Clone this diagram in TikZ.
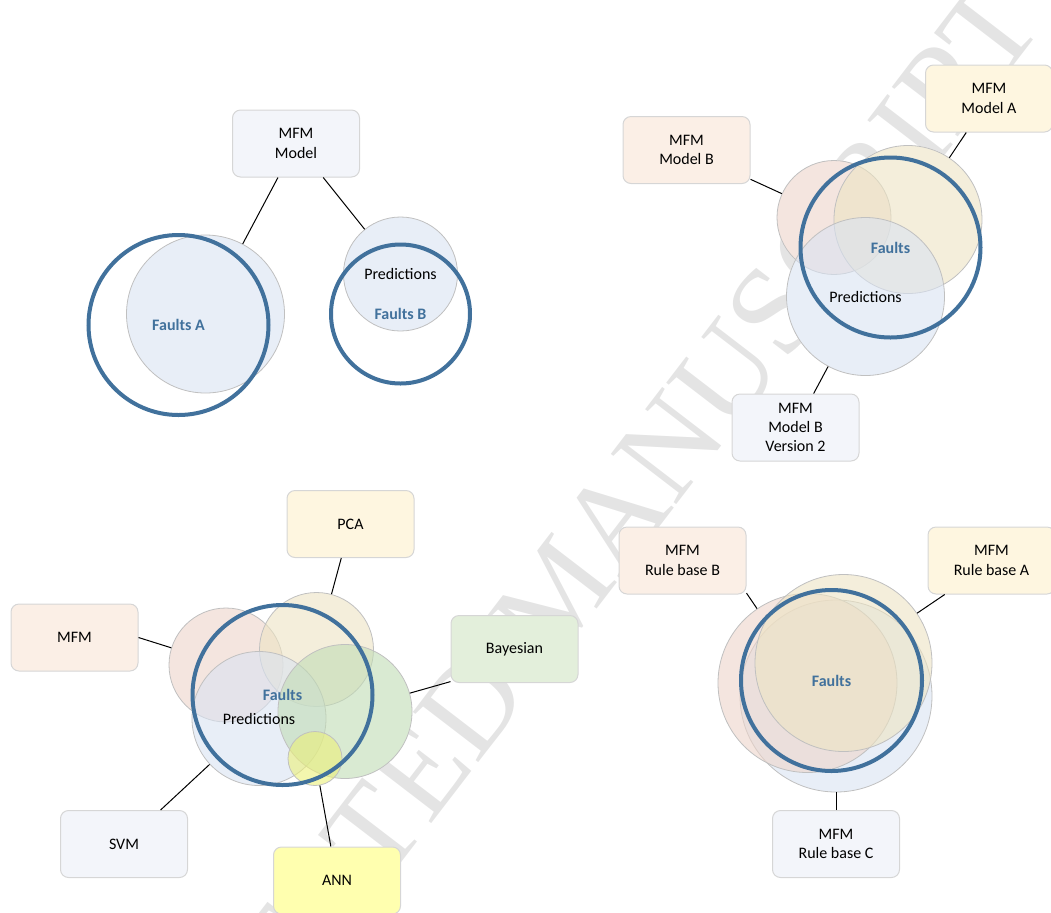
\documentclass[tikz,border=0pt]{standalone}
\usepackage{fontspec}
\usetikzlibrary{calc}
\setmainfont{Carlito}
\newfontfamily\wmfont{Liberation Serif}
\newcommand\labelsize{\fontsize{8}{9.6}\selectfont}
\definecolor{ringblue}{RGB}{65,113,156}
\definecolor{boxline}{RGB}{214,214,214}
\definecolor{discline}{RGB}{192,192,192}
\definecolor{wmgray}{RGB}{228,228,228}
\definecolor{boxblue}{RGB}{243,245,250}
\definecolor{boxpeach}{RGB}{251,239,230}
\definecolor{boxyellow}{RGB}{254,246,224}
\definecolor{boxgreen}{RGB}{227,239,219}
\definecolor{boxann}{RGB}{255,255,175}
\definecolor{cblue}{RGB}{218,227,242}
\definecolor{cpeach}{RGB}{237,213,202}
\definecolor{cyellow}{RGB}{237,228,195}
\definecolor{cgreen}{RGB}{193,220,181}
\definecolor{cann}{RGB}{236,240,120}
\pgfdeclarelayer{wm}
\pgfdeclarelayer{under}
\pgfsetlayers{wm,under,main}
\begin{document}
\begin{tikzpicture}[x=0.5pt,y=-0.5pt,
		box/.style={draw=boxline,line width=0.5pt,fill=#1,rounded corners=4pt,
			minimum width=63.5pt,minimum height=33.5pt,align=center,font=\labelsize},
		disc/.style={circle,draw=discline,line width=0.4pt,fill=#1,fill opacity=0.6,
			text opacity=1,inner sep=0pt,font=\labelsize},
		ring/.style={circle,draw=ringblue,line width=2pt,inner sep=0pt,
			text=ringblue,font=\labelsize\bfseries},
		spoke/.style={line width=0.5pt}]
		\useasboundingbox (0,0) rectangle (1051,912);
		\begin{pgfonlayer}{wm}
			\node[rotate=52.5,text=wmgray,font=\wmfont\fontsize{63}{63}\selectfont] (wm) at (558,592) {ACCEPTED MANUSCRIPT};
		\end{pgfonlayer}

		% one model
		\node[box=boxblue] (mm) at (296,143.5) {MFM\\Model};
		\node[disc=cblue,minimum size=79pt] (fa) at (205.5,314) {};
		\node[disc=cblue,minimum size=57pt] (pb) at (400.5,274) {Predictions};
		\node[ring,minimum size=90pt] (ra) at (178.5,325) {Faults A};
		\node[ring,minimum size=69.5pt] (rb) at (400.5,314) {Faults B};
		\foreach \a/\b in {mm/fa,mm/pb}
			\draw[spoke] (\a) -- (\b);

		% model versions
		\node[box=boxyellow] (ma) at (989,98.5) {MFM\\Model A};
		\node[box=boxpeach] (mb) at (686.5,150) {MFM\\Model B};
		\node[box=boxblue] (mv) at (795.5,427.5) {MFM\\Model B\\Version 2};
		\node[disc=cpeach,minimum size=57pt] (vp) at (834,217.5) {};
		\node[disc=cyellow,minimum size=74pt] (vy) at (908,219.5) {};
		\node[disc=cblue,minimum size=79pt] (vb) at (865.5,296.5) {Predictions};
		\node[ring,minimum size=90pt] (rv) at (890.5,247.5) {Faults};
		\foreach \a/\b in {mb/vp,ma/vy,mv/vb}
			\draw[spoke] (\a) -- (\b);

		% several methods
		\node[box=boxpeach] (mfm) at (74.5,637.5) {MFM};
		\node[box=boxyellow] (pca) at (350.5,524) {PCA};
		\node[box=boxgreen] (bay) at (514.5,649) {Bayesian};
		\node[box=boxblue] (svm) at (124,844) {SVM};
		\node[box=boxann] (ann) at (337,880.5) {ANN};
		\node[disc=cpeach,minimum size=57pt] (hp) at (226,665) {};
		\node[disc=cyellow,minimum size=57pt] (hy) at (316.5,649.5) {};
		\node[disc=cblue,minimum size=67pt] (hb) at (259,718.5) {};
		\node[disc=cgreen,minimum size=67pt] (hg) at (345,711.5) {};
		\node[disc=cann,minimum size=27pt] (ha) at (315,758.5) {};
		\node[font=\labelsize] (hbt) at (hb) {Predictions};
		\node[ring,minimum size=90pt] (rh) at (282.5,695) {Faults};
		\draw[spoke] (mfm.east) -- (hp);
		\draw[spoke] (bay.-153) -- (hg);
		\foreach \a/\b in {pca/hy,svm/hb,ann/ha}
			\draw[spoke] (\a) -- (\b);

		% rule bases
		\node[box=boxpeach] (rbb) at (682.5,560.5) {MFM\\Rule base B};
		\node[box=boxyellow] (rba) at (991.5,560.5) {MFM\\Rule base A};
		\node[box=boxblue] (rbc) at (836,844) {MFM\\Rule base C};
		\node[disc=cblue,minimum size=96pt] (kb) at (836,696) {};
		\node[disc=cpeach,minimum size=89.5pt] (kp) at (807.5,683) {};
		\node[disc=cyellow,minimum size=88.5pt] (ky) at (843.5,663) {};
		\node[ring,minimum size=90.5pt] (rk) at (831.5,680.5) {Faults};
		\draw[spoke] (rbb.-27) -- (kp);
		\draw[spoke] (rba.-144) -- (ky);
		\draw[spoke] (rbc) -- (kb);

		\begin{pgfonlayer}{under}
			\foreach \c in {fa,pb,vp,vy,vb,hp,hy,hb,hg,ha,kb,kp,ky}
				\fill[white] let \p1=($(\c.north)-(\c.center)$), \n1={veclen(\x1,\y1)} in (\c.center) circle[radius={\n1*1pt}];
		\end{pgfonlayer}

	\end{tikzpicture}
\end{document}
